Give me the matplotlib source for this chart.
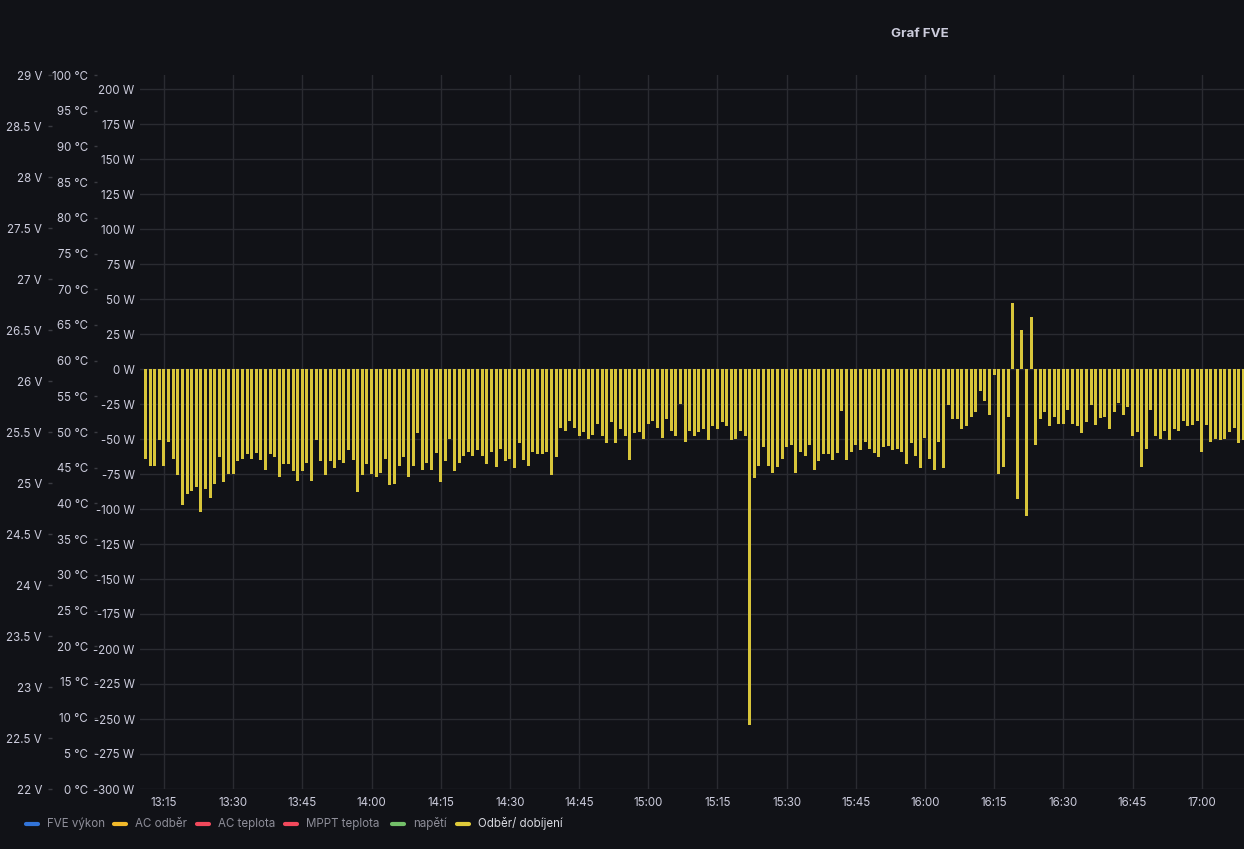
import matplotlib
matplotlib.use("Agg")
import matplotlib.pyplot as plt
import matplotlib.dates as mdates
from matplotlib.lines import Line2D
import numpy as np
import pandas as pd

plt.rcParams['font.family'] = ['Inter', 'DejaVu Sans']

# one bar per minute, 13:11 .. 17:09
start_time = "2023-06-01 13:11"
odber_dobijeni = [
    -64, -69, -69, -51, -69, -52, -64, -76, -97, -89, -87, -84, -102, -86, -92, -82,
    -63, -81, -75, -75, -66, -64, -61, -64, -60, -65, -72, -61, -63, -77, -68, -68,
    -73, -80, -73, -67, -80, -51, -66, -76, -66, -71, -65, -67, -58, -65, -88, -76,
    -68, -75, -77, -74, -64, -83, -82, -69, -63, -77, -69, -46, -72, -67, -72, -60,
    -81, -66,
    -50, -73, -67, -62, -59, -62, -58, -62, -68, -59, -70, -57, -66, -64, -71, -53,
    -65, -69, -59, -61, -61, -59, -76, -63, -42, -44, -37, -42, -48, -45, -50, -47,
    -39, -48, -53,
    -38, -53, -43, -48, -65, -46, -45, -50, -39, -37, -42, -49, -36, -44, -48, -25,
    -52, -44, -48, -45, -43, -51, -41, -43, -38, -41, -51, -50, -44, -48, -254, -78,
    -69, -56, -69, -74,
    -70, -64, -56, -54, -74, -59, -62, -54, -72, -66, -61, -61, -65, -60, -30, -65,
    -59, -54, -58, -52, -57, -60, -63, -56, -55, -58, -57, -59, -68, -53, -62, -71,
    -49, -64, -72, -52,
    -71, -26, -36, -36, -43, -41, -34, -31, -16, -23, -33, -4, -75, -70, -34, 47,
    -93, 28, -105, 37, -54, -36, -31, -41, -34, -39, -39, -29, -39, -41, -46, -38,
    -26,
    -40, -35, -34, -43, -31, -24, -33, -27, -48, -45, -70, -57, -29, -48, -50, -44,
    -51, -43, -44, -37, -41, -40, -37, -59, -40, -52, -50, -51, -50, -45, -42, -53,
    -51,
]
times = pd.date_range(start_time, periods=len(odber_dobijeni), freq="1min")

legend_names = ["FVE výkon", "AC odběr", "AC teplota", "MPPT teplota", "napětí", "Odběr/ dobíjení"]
legend_colors = ["#3274d9", "#f2b92a", "#f2495c", "#f2495c", "#73bf69", "#e0cb3a"]
legend_x = [25, 113, 196, 284, 391, 456]

bg = "#111217"
txt = "#ccccdc"
grid_c = "#2a2b31"
W, H = 1244, 849
fs = 8.3

fig = plt.figure(figsize=(W / 100, H / 100), dpi=100, facecolor=bg)
ax = fig.add_axes([140 / W, 1 - 789 / H, (W - 140) / W, (789 - 75) / H])
ax.set_facecolor(bg)

ax.bar(times, odber_dobijeni, width=0.65 / 1440, color="#d8c53a", zorder=3)

ax.set_ylim(-300, 210)
ax.set_yticks(np.arange(-300, 201, 25))
ax.set_yticklabels([f"{v} W" for v in range(-300, 201, 25)])
ax.set_xlim(pd.Timestamp("2023-06-01 13:09:48"), pd.Timestamp("2023-06-01 17:09:10"))
ax.xaxis.set_major_locator(mdates.MinuteLocator(byminute=[0, 15, 30, 45]))
ax.xaxis.set_major_formatter(mdates.DateFormatter("%H:%M"))
ax.tick_params(axis="y", length=0, pad=3.8, colors=txt, labelsize=fs)
ax.tick_params(axis="x", length=0, pad=5.8, colors=txt, labelsize=fs)
ax.grid(True, color=grid_c, linewidth=1, zorder=0)
for s in ax.spines.values():
    s.set_visible(False)

# extra left axes: temperature and voltage
def extra_axis(out_px, lo, hi, step, fmt, tick_len):
    a = ax.twinx()
    a.set_ylim(lo, hi)
    a.yaxis.set_ticks_position("left")
    a.spines["left"].set_position(("outward", out_px * 0.72))
    for s in a.spines.values():
        s.set_visible(False)
    ticks = np.arange(lo, hi + step / 2, step)
    a.set_yticks(ticks)
    a.set_yticklabels([fmt(t) for t in ticks])
    a.tick_params(axis="y", length=tick_len * 0.72, pad=4.3, colors="#3a3b42",
                  labelcolor=txt, labelsize=fs, width=1)
    return a

extra_axis(43, 0, 100, 5, lambda t: f"{t:g} °C", 3)
extra_axis(88, 22, 29, 0.5, lambda t: f"{t:g} V", 4)

fig.text(920 / W, 1 - 34 / H, "Graf FVE", ha="center", va="center",
         color=txt, fontsize=9.6, fontweight="bold")

# legend
ly = 1 - 824 / H
for name, col, x0 in zip(legend_names, legend_colors, legend_x):
    fig.add_artist(Line2D([(x0 + 1) / W, (x0 + 13) / W], [ly, ly], color=col,
                          linewidth=3, solid_capstyle="round", transform=fig.transFigure))
    tcol = "#d8d9e0" if name == legend_names[-1] else "#8e8e99"
    fig.text((x0 + 22) / W, ly, name, ha="left", va="center", color=tcol, fontsize=fs)

fig.savefig("out.png", dpi=100, facecolor=bg)
